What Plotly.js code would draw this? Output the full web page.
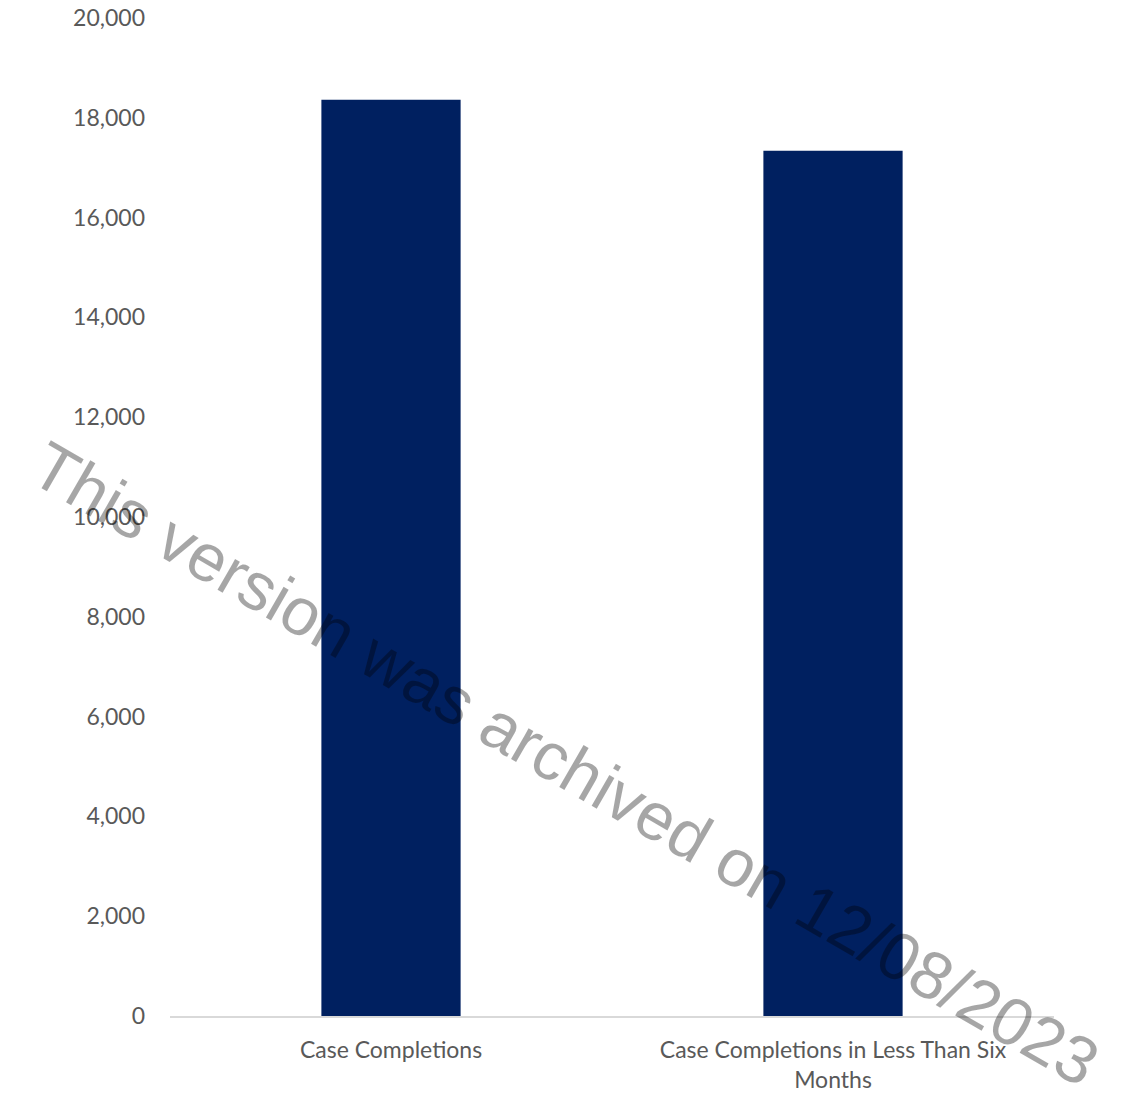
<!DOCTYPE html>
<html>
<head>
<meta charset="utf-8">
<script src="https://cdn.plot.ly/plotly-3.0.1.min.js"></script>
<style>html,body{margin:0;padding:0;background:#fff;}</style>
</head>
<body>
<div id="chart" style="width:1132px;height:1114px;"></div>
<script>
const categories = ["Case Completions", "Case Completions in Less Than Six<br>Months"];
const values = [18360, 17340];
const yTickVals = [0, 2000, 4000, 6000, 8000, 10000, 12000, 14000, 16000, 18000, 20000];
const watermarkText = "This version was archived on 12/08/2023";

const trace = {
  type: "bar",
  x: categories,
  y: values,
  marker: {color: "#002060"},
  hoverinfo: "none"
};

const layout = {
  width: 1132,
  height: 1114,
  margin: {l: 170, r: 78, t: 18, b: 98},
  paper_bgcolor: "#ffffff",
  plot_bgcolor: "#ffffff",
  bargap: 0.685,
  showlegend: false,
  font: {family: "Lato, 'Open Sans', sans-serif", color: "#595959", size: 23},
  xaxis: {
    showline: true,
    linecolor: "#D9D9D9",
    linewidth: 1.5,
    showgrid: false,
    zeroline: false,
    ticks: "",
    ticklabelstandoff: 13,
    tickfont: {family: "Lato, 'Open Sans', sans-serif", color: "#595959", size: 23}
  },
  yaxis: {
    range: [0, 20000],
    tickvals: yTickVals,
    tickformat: ",d",
    showline: false,
    showgrid: false,
    zeroline: false,
    ticks: "",
    ticklabelstandoff: 24,
    tickfont: {family: "Lato, 'Open Sans', sans-serif", color: "#595959", size: 23}
  },
  annotations: [{
    text: watermarkText,
    xref: "paper", yref: "paper",
    x: 0.4476, y: 0.2535,
    xanchor: "center", yanchor: "middle",
    showarrow: false,
    textangle: 30,
    font: {family: "'Liberation Sans', Arial, sans-serif", size: 67, color: "rgba(0,0,0,0.35)"}
  }]
};

Plotly.newPlot("chart", [trace], layout, {staticPlot: true, displayModeBar: false});
</script>
</body>
</html>
